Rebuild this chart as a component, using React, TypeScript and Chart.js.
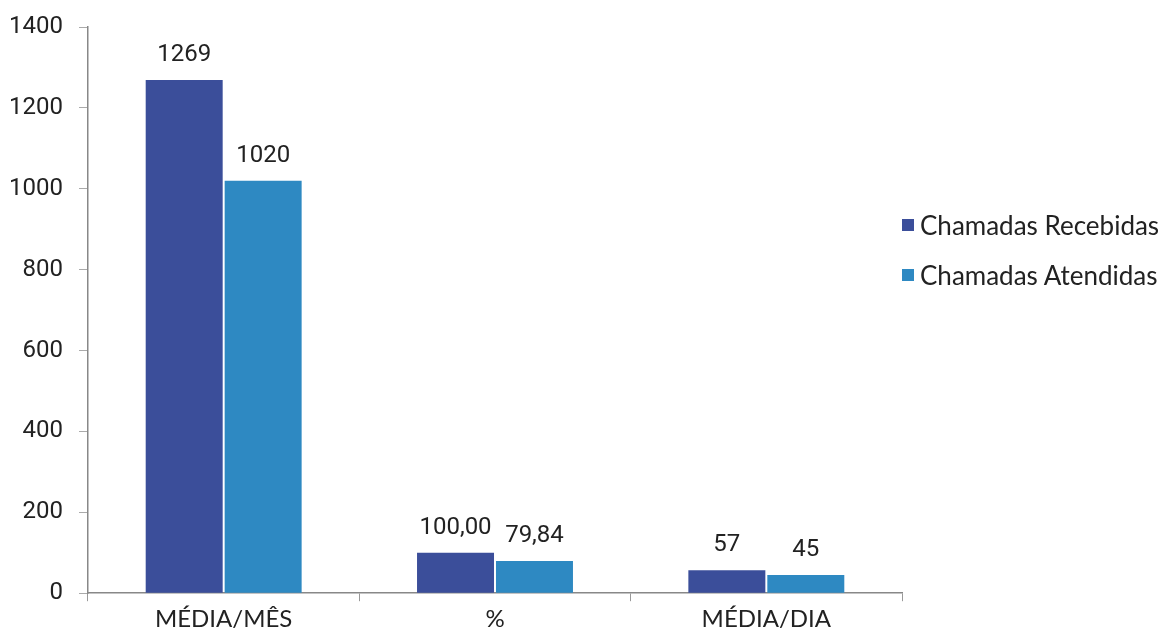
import React, { useEffect, useRef } from "react";
import { Chart, registerables } from "chart.js";

Chart.register(...registerables);

const categories = ["MÉDIA/MÊS", "%", "MÉDIA/DIA"];
const seriesNames = ["Chamadas Recebidas", "Chamadas Atendidas"];
const recebidas = [1269, 100, 57];
const atendidas = [1020, 79.84, 45];
const recebidasLabels = ["1269", "100,00", "57"];
const atendidasLabels = ["1020", "79,84", "45"];
const yTicks = [0, 200, 400, 600, 800, 1000, 1200, 1400];
const colors = ["#3B4E9A", "#2E89C2"];

const numberFont = "Roboto, 'Noto Sans', sans-serif";
const textFont = "Lato, 'Noto Sans', sans-serif";

const valueLabelPlugin = {
  id: "valueLabels",
  afterDatasetsDraw(chart: any) {
    const { ctx } = chart;
    const labelSets = [recebidasLabels, atendidasLabels];
    ctx.save();
    ctx.font = `24px ${numberFont}`;
    ctx.fillStyle = "#222";
    ctx.textAlign = "center";
    ctx.textBaseline = "alphabetic";
    chart.data.datasets.forEach((_ds: any, di: number) => {
      const meta = chart.getDatasetMeta(di);
      meta.data.forEach((el: any, i: number) => {
        ctx.fillText(labelSets[di][i], el.x, el.y - 19);
      });
    });
    ctx.restore();
  },
};

export default function App() {
  const canvasRef = useRef<HTMLCanvasElement | null>(null);

  useEffect(() => {
    if (!canvasRef.current) return;
    const chart = new Chart(canvasRef.current, {
      type: "bar",
      data: {
        labels: categories,
        datasets: [
          {
            label: seriesNames[0],
            data: recebidas,
            backgroundColor: colors[0],
            categoryPercentage: 0.582,
            barPercentage: 0.975,
          },
          {
            label: seriesNames[1],
            data: atendidas,
            backgroundColor: colors[1],
            categoryPercentage: 0.582,
            barPercentage: 0.975,
          },
        ],
      },
      options: {
        responsive: false,
        animation: false,
        layout: { padding: { top: 27, right: 261, bottom: 2, left: 0 } },
        plugins: {
          legend: { display: false },
          tooltip: { enabled: false },
        },
        scales: {
          x: {
            grid: {
              display: true,
              drawOnChartArea: false,
              drawTicks: true,
              tickLength: 8,
              color: "#999",
              offset: true,
            },
            border: { color: "#888", width: 1.5 },
            ticks: {
              color: "#222",
              padding: 4,
              font: { family: textFont, size: 24 },
            },
          },
          y: {
            min: 0,
            max: 1400,
            afterBuildTicks(scale: any) {
              scale.ticks = yTicks.map((v) => ({ value: v }));
            },
            afterFit(scale: any) {
              // fixed axis width; top spacing comes from layout padding
              scale.width = 88;
              scale.paddingTop = 0;
              scale.paddingBottom = 0;
            },
            grid: {
              display: true,
              drawOnChartArea: false,
              drawTicks: true,
              tickLength: 9,
              color: "#aaa",
            },
            border: { color: "#888", width: 1.5 },
            ticks: {
              color: "#222",
              padding: 16,
              font: { family: numberFont, size: 24 },
              callback: (v: any) => String(v),
            },
          },
        },
      },
      plugins: [valueLabelPlugin],
    });
    return () => chart.destroy();
  }, []);

  const legendItem = (name: string, color: string) => (
    <div
      key={name}
      style={{ display: "flex", alignItems: "center", height: 50 }}
    >
      <span
        style={{
          display: "inline-block",
          width: 12,
          height: 12,
          background: color,
          marginRight: 6,
        }}
      />
      <span style={{ fontFamily: textFont, fontSize: 26, color: "#222" }}>
        {name}
      </span>
    </div>
  );

  return (
    <div
      style={{
        position: "fixed",
        left: 0,
        top: 0,
        width: 1163,
        height: 640,
        background: "#fff",
      }}
    >
      <canvas ref={canvasRef} width={1163} height={640} />
      <div style={{ position: "absolute", left: 902, top: 200 }}>
        {seriesNames.map((n, i) => legendItem(n, colors[i]))}
      </div>
    </div>
  );
}
